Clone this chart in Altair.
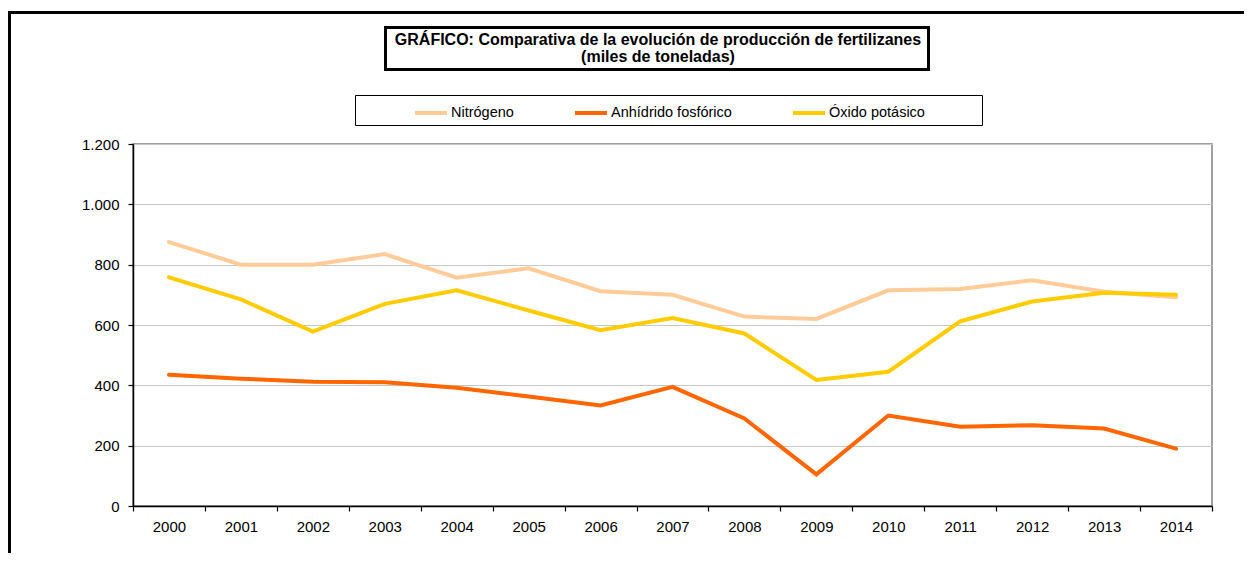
import altair as alt
import pandas as pd

years = [str(y) for y in range(2000, 2015)]
nitrogeno = [875, 800, 800, 835, 757, 788, 712, 700, 628, 620, 715, 719, 748, 710, 692]
fosforico = [435, 422, 412, 410, 392, 363, 333, 395, 290, 105, 300, 263, 268, 257, 190]
potasico = [758, 685, 578, 670, 715, 648, 583, 623, 572, 418, 445, 612, 678, 707, 700]

series_names = ["Nitrógeno", "Anhídrido fosfórico", "Óxido potásico"]
series_colors = ["#FFCC99", "#FF6600", "#FFCC00"]
title_lines = ["GRÁFICO: Comparativa de la evolución de producción de fertilizanes",
               "(miles de toneladas)"]

rows = []
for name, vals in zip(series_names, [nitrogeno, fosforico, potasico]):
    for y, v in zip(years, vals):
        rows.append({"year": y, "value": v, "serie": name})
df = pd.DataFrame(rows)

FONT = "Liberation Sans"
W, H = 1079, 362
one = pd.DataFrame({"a": [0]})

lines = alt.Chart(df).mark_line(strokeWidth=4, strokeCap="round").encode(
    x=alt.X("year:O", title=None, bandPosition=0.5,
            scale=alt.Scale(type="band", paddingInner=0, paddingOuter=0),
            axis=alt.Axis(tickBand="extent", labelAngle=0, labelFont=FONT, labelFontSize=15,
                          labelColor="black", domainColor="black", domainWidth=1.5,
                          tickColor="black", tickWidth=1.2, tickSize=5, labelPadding=8, grid=False)),
    y=alt.Y("value:Q", title=None,
            scale=alt.Scale(domain=[0, 1200], nice=False),
            axis=alt.Axis(values=[0, 200, 400, 600, 800, 1000, 1200],
                          labelExpr="replace(format(datum.value, ','), ',', '.')",
                          labelFont=FONT, labelFontSize=15, labelColor="black",
                          domainColor="black", domainWidth=1.5, tickColor="black",
                          tickWidth=1.2, tickSize=5, labelPadding=9,
                          grid=True, gridColor="#C8C8C8", gridWidth=1.2)),
    color=alt.Color("serie:N",
                    scale=alt.Scale(domain=series_names, range=series_colors),
                    legend=alt.Legend(orient="none", legendX=280, legendY=-49, direction="horizontal",
                                      title=None, symbolType="stroke", symbolSize=1024,
                                      symbolStrokeWidth=4, labelFont=FONT, labelFontSize=14.5,
                                      labelColor="black", labelOffset=2, columnPadding=53,
                                      padding=0, labelLimit=300)),
    order=alt.Order("serie:N"),
)

frame_left = alt.Chart(one).mark_rule(color="black", strokeWidth=3).encode(
    x=alt.value(-123.5), y=alt.value(-133), y2=alt.value(450))
frame_top = alt.Chart(one).mark_rule(color="black", strokeWidth=3).encode(
    x=alt.value(-125), x2=alt.value(1200), y=alt.value(-131.5))

title_box = alt.Chart(one).mark_rect(fill="white", stroke="black", strokeWidth=3).encode(
    x=alt.value(252.5), x2=alt.value(795.5), y=alt.value(-116.5), y2=alt.value(-74.5))
title1 = alt.Chart(one).mark_text(text=title_lines[0], font=FONT, fontSize=16, fontWeight="bold",
                                   color="black", align="center", baseline="alphabetic").encode(
    x=alt.value(525), y=alt.value(-99))
title2 = alt.Chart(one).mark_text(text=title_lines[1], font=FONT, fontSize=16, fontWeight="bold",
                                   color="black", align="center", baseline="alphabetic").encode(
    x=alt.value(525), y=alt.value(-82))

legend_box = alt.Chart(one).mark_rect(fill="white", stroke="black", strokeWidth=1).encode(
    x=alt.value(222.5), x2=alt.value(849.5), y=alt.value(-48.5), y2=alt.value(-18.5))

chart = alt.layer(frame_left, frame_top, title_box, title1, title2, legend_box, lines).properties(
    width=W, height=H,
    autosize=alt.AutoSizeParams(type="none"),
    padding={"left": 125, "top": 136, "right": 32, "bottom": 47},
    background="white",
).configure_view(stroke="#808080", strokeWidth=1.5)

chart.save("out.html", embed_options={"renderer": "svg", "actions": False})
